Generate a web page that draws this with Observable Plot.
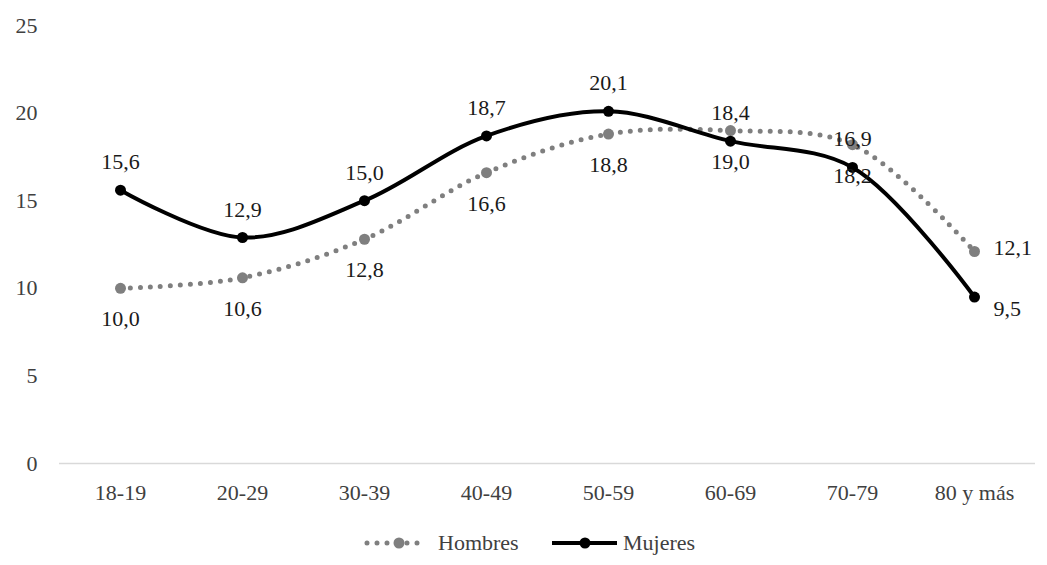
<!DOCTYPE html>
<html>
<head>
<meta charset="utf-8">
<script src="https://cdn.jsdelivr.net/npm/d3@7"></script>
<script src="https://cdn.jsdelivr.net/npm/@observablehq/plot@0.6"></script>
<style>
  html, body { margin: 0; padding: 0; background: #fff; }
  #chart { width: 1047px; }
  #chart svg text { font-family: "Liberation Serif", "Times New Roman", serif; }
  .legend { position: relative; height: 45px; font-family: "Liberation Serif", "Times New Roman", serif; font-size: 22px; color: #404040; }
  .legend .item { position: absolute; top: 0; display: flex; align-items: center; height: 45px; }
  .legend svg { display: block; }
</style>
</head>
<body>
<div id="chart"></div>
<script>
const categories = ["18-19", "20-29", "30-39", "40-49", "50-59", "60-69", "70-79", "80 y más"];
const hombres = [10.0, 10.6, 12.8, 16.6, 18.8, 19.0, 18.2, 12.1];
const mujeres = [15.6, 12.9, 15.0, 18.7, 20.1, 18.4, 16.9, 9.5];
const seriesNames = ["Hombres", "Mujeres"];
const yTicks = [0, 5, 10, 15, 20, 25];

const H = categories.map((c, i) => ({cat: c, serie: seriesNames[0], value: hombres[i], last: i === categories.length - 1}));
const M = categories.map((c, i) => ({cat: c, serie: seriesNames[1], value: mujeres[i], last: i === categories.length - 1}));
const fmt = d => d.value.toFixed(1).replace(".", ",");

const grayColor = "#7f7f7f";
const labelFill = "#1a1a1a";

const plot = Plot.plot({
  width: 1047,
  height: 520,
  marginLeft: 59,
  marginRight: 12,
  marginTop: 25,
  marginBottom: 57,
  style: {fontFamily: "'Liberation Serif', 'Times New Roman', serif", fontSize: "22px", color: "#404040", background: "#fff"},
  x: {type: "point", domain: categories, padding: 0.5, label: null, tickSize: 0, tickPadding: 21},
  y: {domain: [0, 25], ticks: yTicks, label: null, tickSize: 0, tickPadding: 22},
  marks: [
    Plot.ruleY([0], {stroke: "#d9d9d9", strokeWidth: 1.5}),
    Plot.line(H, {x: "cat", y: "value", curve: "catmull-rom", stroke: grayColor, strokeWidth: 5, strokeDasharray: "0 10", strokeLinecap: "round"}),
    Plot.line(M, {x: "cat", y: "value", curve: "catmull-rom", stroke: "#000", strokeWidth: 4}),
    Plot.dot(H, {x: "cat", y: "value", r: 5.5, fill: grayColor}),
    Plot.dot(M, {x: "cat", y: "value", r: 5.5, fill: "#000"}),
    Plot.text(H.filter(d => !d.last), {x: "cat", y: "value", text: fmt, dy: 31, fontSize: 22, fill: labelFill}),
    Plot.text(H.filter(d => d.last), {x: "cat", y: "value", text: fmt, dx: 19, dy: -4, textAnchor: "start", fontSize: 22, fill: labelFill}),
    Plot.text(M.filter(d => !d.last), {x: "cat", y: "value", text: fmt, dy: -28, fontSize: 22, fill: labelFill}),
    Plot.text(M.filter(d => d.last), {x: "cat", y: "value", text: fmt, dx: 19, dy: 12, textAnchor: "start", fontSize: 22, fill: labelFill})
  ]
});
const chart = document.getElementById("chart");
chart.appendChild(plot);

// Legend (HTML below the SVG)
const legend = document.createElement("div");
legend.className = "legend";
legend.innerHTML = `
  <div class="item" style="left:364px">
    <svg width="64" height="14"><line x1="3" y1="7" x2="61" y2="7" stroke="${grayColor}" stroke-width="5" stroke-linecap="round" stroke-dasharray="0 10"/><circle cx="35" cy="7" r="5.5" fill="${grayColor}"/></svg>
    <span style="margin-left:10px">${seriesNames[0]}</span>
  </div>
  <div class="item" style="left:552px">
    <svg width="65" height="14"><line x1="0" y1="7" x2="65" y2="7" stroke="#000" stroke-width="4"/><circle cx="33" cy="7" r="5.5" fill="#000"/></svg>
    <span style="margin-left:6px">${seriesNames[1]}</span>
  </div>`;
chart.appendChild(legend);
</script>
</body>
</html>
